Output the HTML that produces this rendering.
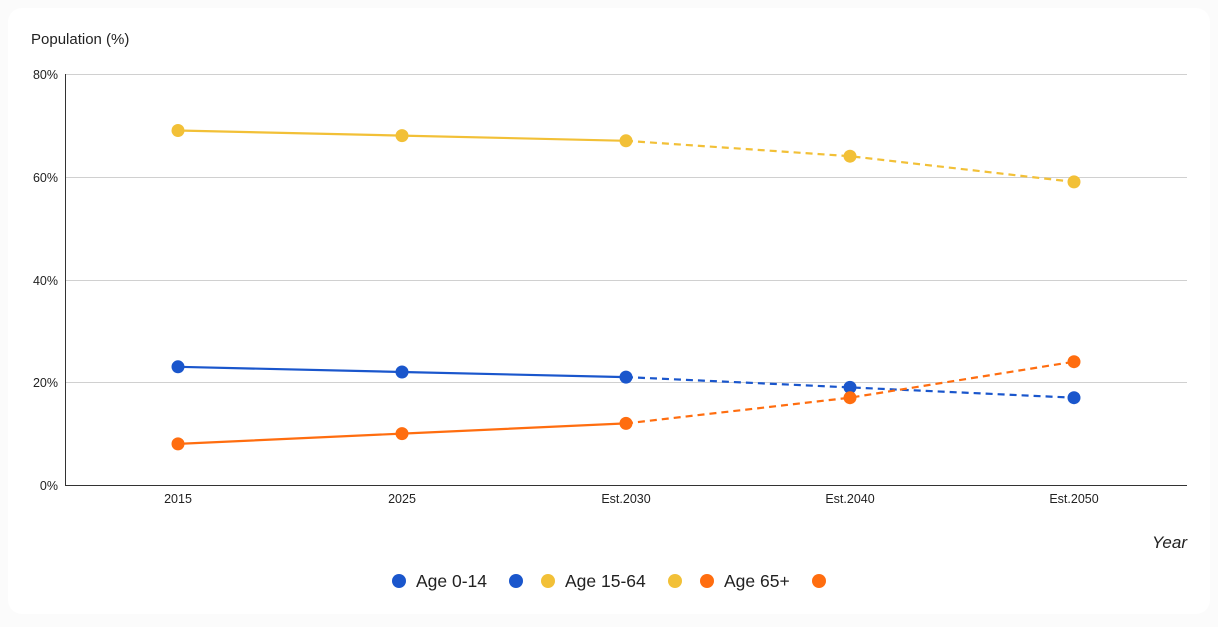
<!DOCTYPE html>
<html><head><meta charset="utf-8"><style>
body{margin:0;background:#fbfbfb;width:1218px;height:622px;overflow:hidden}
</style></head><body>
<svg width="1218" height="622" xmlns="http://www.w3.org/2000/svg" font-family="Liberation Sans, Arial, sans-serif">
<rect x="8" y="8" width="1202" height="606" rx="14" fill="#fff"/>
<text x="31" y="44" font-size="15" fill="#222">Population (%)</text>
<g stroke="#d0d0d0" stroke-width="1">
<line x1="65" y1="74.5" x2="1187" y2="74.5"/><line x1="65" y1="177.5" x2="1187" y2="177.5"/>
<line x1="65" y1="280.5" x2="1187" y2="280.5"/><line x1="65" y1="382.5" x2="1187" y2="382.5"/>
</g>
<line x1="65" y1="485.5" x2="1187" y2="485.5" stroke="#333"/>
<line x1="65.5" y1="74" x2="65.5" y2="486" stroke="#333"/>
<g font-size="12.5" fill="#222" text-anchor="end">
<text x="58" y="79">80%</text><text x="58" y="182">60%</text><text x="58" y="285">40%</text><text x="58" y="387">20%</text><text x="58" y="490">0%</text>
</g>
<g font-size="12.5" fill="#222" text-anchor="middle">
<text x="178" y="503">2015</text><text x="402" y="503">2025</text><text x="626" y="503">Est.2030</text><text x="850" y="503">Est.2040</text><text x="1074" y="503">Est.2050</text>
</g>
<text x="1187" y="548" font-size="17" font-style="italic" fill="#222" text-anchor="end">Year</text>
<g fill="none" stroke-width="2.2">
<polyline points="178,130.5 402,135.6 626,140.8" stroke="#f2c037"/>
<polyline points="626,140.8 850,156.2 1074,181.9" stroke="#f2c037" stroke-dasharray="7,5"/>
<polyline points="178,366.8 402,372 626,377.1" stroke="#1a56cc"/>
<polyline points="626,377.1 850,387.4 1074,397.7" stroke="#1a56cc" stroke-dasharray="7,5"/>
<polyline points="178,443.9 402,433.6 626,423.4" stroke="#ff6d0f"/>
<polyline points="626,423.4 850,397.7 1074,361.7" stroke="#ff6d0f" stroke-dasharray="7,5"/>
</g>
<g fill="#f2c037"><circle cx="178" cy="130.5" r="6.5"/><circle cx="402" cy="135.6" r="6.5"/><circle cx="626" cy="140.8" r="6.5"/><circle cx="850" cy="156.2" r="6.5"/><circle cx="1074" cy="181.9" r="6.5"/></g>
<g fill="#1a56cc"><circle cx="178" cy="366.8" r="6.5"/><circle cx="402" cy="372" r="6.5"/><circle cx="626" cy="377.1" r="6.5"/><circle cx="850" cy="387.4" r="6.5"/><circle cx="1074" cy="397.7" r="6.5"/></g>
<g fill="#ff6d0f"><circle cx="178" cy="443.9" r="6.5"/><circle cx="402" cy="433.6" r="6.5"/><circle cx="626" cy="423.4" r="6.5"/><circle cx="850" cy="397.7" r="6.5"/><circle cx="1074" cy="361.7" r="6.5"/></g>
<g font-size="17.5" fill="#222">
<circle cx="399" cy="581" r="7" fill="#1a56cc"/><text x="416" y="587">Age 0-14</text><circle cx="516" cy="581" r="7" fill="#1a56cc"/>
<circle cx="548" cy="581" r="7" fill="#f2c037"/><text x="565" y="587">Age 15-64</text><circle cx="675" cy="581" r="7" fill="#f2c037"/>
<circle cx="707" cy="581" r="7" fill="#ff6d0f"/><text x="724" y="587">Age 65+</text><circle cx="819" cy="581" r="7" fill="#ff6d0f"/>
</g>
</svg>
</body></html>
